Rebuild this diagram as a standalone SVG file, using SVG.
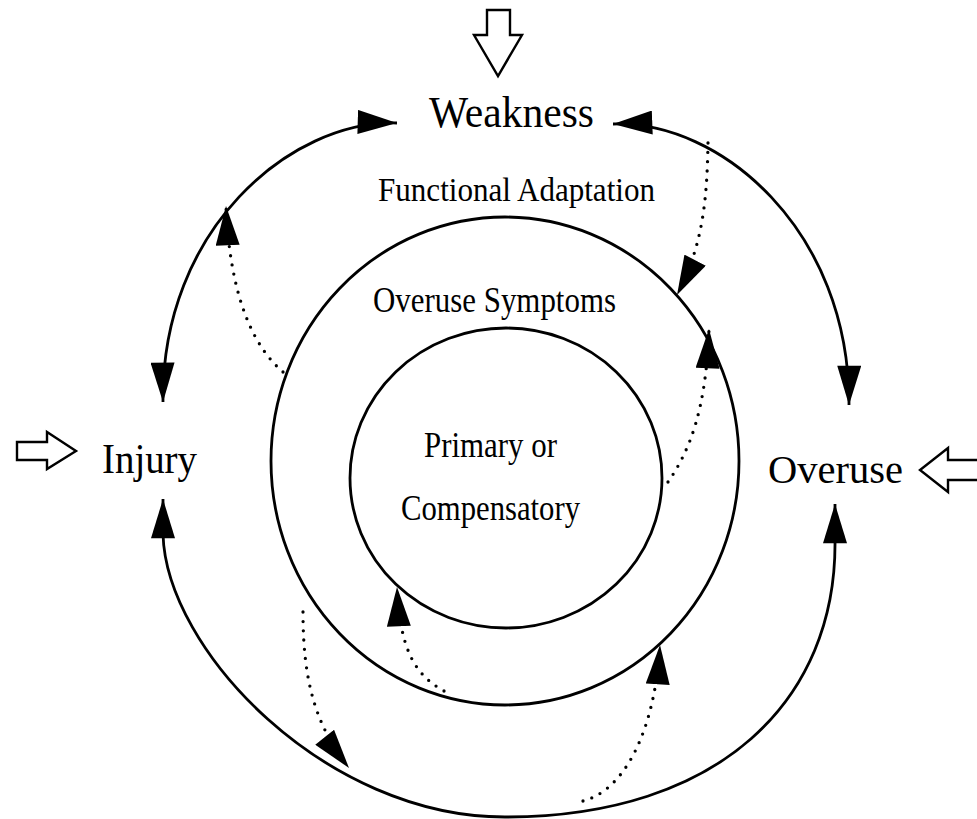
<svg xmlns="http://www.w3.org/2000/svg" width="977" height="819" viewBox="0 0 977 819">
<style>
.t{font-family:"Liberation Serif","Times New Roman",serif;fill:#000}
.ring{fill:none;stroke:#000;stroke-width:2.8}
.arc{fill:none;stroke:#000;stroke-width:2.8;marker-start:url(#ah);marker-end:url(#ah)}
.dot{fill:none;stroke:#000;stroke-width:3.3;stroke-linecap:round;stroke-dasharray:0 9.3;marker-end:url(#ah)}
.big{fill:#fff;stroke:#000;stroke-width:2.4;stroke-linejoin:miter}
</style>
<defs>
<marker id="ah" markerUnits="userSpaceOnUse" markerWidth="40" markerHeight="24" refX="36" refY="11" orient="auto-start-reverse" viewBox="0 0 36 22">
<path d="M0,0 L36,11 L0,22 Z" fill="#000"/>
</marker>
</defs>
<rect width="977" height="819" fill="#fff"/>
<g id="rings">
<ellipse id="ring-outer" class="ring" cx="505" cy="461" rx="234" ry="244"/>
<ellipse id="ring-inner" class="ring" cx="506" cy="478" rx="156" ry="150"/>
</g>
<g id="connectors">
<path d="M397,123 C290,120 161,230 163,402" class="arc"/>
<path d="M613,124 C720,120 850,230 849,405" class="arc"/>
<path d="M163,499 L163,534 C166,650 325,817 505,817 C720,817 837,700 835,540 L835,504" class="arc"/>
<path d="M283,372 C255,348 230,300 226,206" class="dot"/>
<path d="M708,143 C707,200 703,245 677,295" class="dot"/>
<path d="M668,482 C690,450 706,410 709,329" class="dot"/>
<path d="M303,612 C303,680 315,725 349,768" class="dot"/>
<path d="M444,691 C415,675 400,650 397,587" class="dot"/>
<path d="M583,801 C625,790 655,730 660,645" class="dot"/>
</g>
<g id="weakness">
<polygon class="big" points="487,10 510,10 510,35 522,35 498,76 474,35 487,35"/>
<text class="t" x="429" y="127" font-size="44" textLength="165" lengthAdjust="spacingAndGlyphs">Weakness</text>
</g>
<g id="injury">
<polygon class="big" points="17,442 47,442 47,432 76,451 47,469 47,460 17,460"/>
<text class="t" x="102" y="473" font-size="42" textLength="95" lengthAdjust="spacingAndGlyphs">Injury</text>
</g>
<g id="overuse">
<polygon class="big" points="980,460 948,460 948,448 920,470 948,492 948,480 980,480"/>
<text class="t" x="768" y="483" font-size="41" textLength="135" lengthAdjust="spacingAndGlyphs">Overuse</text>
</g>
<g id="functional-adaptation">
<text class="t" x="378" y="201" font-size="34" textLength="277" lengthAdjust="spacingAndGlyphs">Functional Adaptation</text>
</g>
<g id="overuse-symptoms">
<text class="t" x="373" y="312" font-size="35" textLength="243" lengthAdjust="spacingAndGlyphs">Overuse Symptoms</text>
</g>
<g id="primary-compensatory">
<text class="t" x="424" y="457" font-size="35" textLength="133" lengthAdjust="spacingAndGlyphs">Primary or</text>
<text class="t" x="401" y="520" font-size="35" textLength="179" lengthAdjust="spacingAndGlyphs">Compensatory</text>
</g>
</svg>
